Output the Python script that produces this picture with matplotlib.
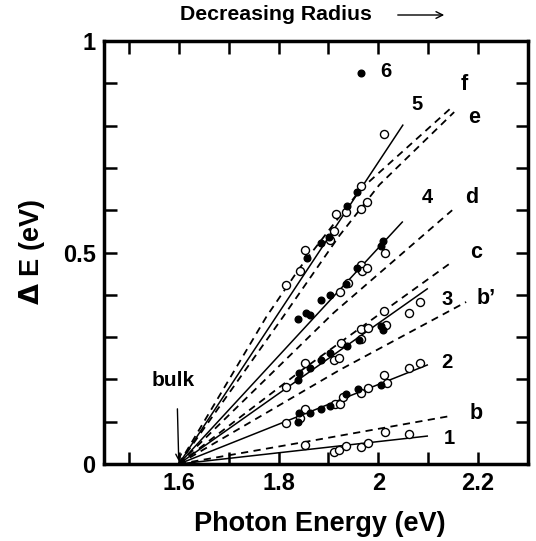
import matplotlib
matplotlib.use('Agg')
import matplotlib.pyplot as plt

plt.rcParams['font.family'] = ['Liberation Sans', 'DejaVu Sans']
plt.rcParams['font.weight'] = 'bold'

# bulk band gap (all lines start here)
bulk_x = 1.6

# solid fits 1-5 : end points
fit_labels = ['1', '2', '3', '4', '5']
fit_end_x = [2.098, 2.098, 2.098, 2.048, 2.049]
fit_end_y = [0.066, 0.234, 0.414, 0.572, 0.801]
fit_lab_x = [2.142, 2.138, 2.138, 2.098, 2.078]
fit_lab_y = [0.061, 0.239, 0.388, 0.631, 0.849]

# dashed theory curves
b_x = [1.6, 1.852, 2.142]
b_y = [0.0, 0.052, 0.113]
bp_x = [1.6, 1.922, 2.176]
bp_y = [0.0, 0.222, 0.383]
c_x = [1.6, 1.85, 2.148]
c_y = [0.0, 0.225, 0.478]
d_x = [1.6, 1.91, 2.148]
d_y = [0.0, 0.357, 0.600]
e_x = [1.6, 1.809, 1.922, 2.002, 2.152]
e_y = [0.0, 0.348, 0.540, 0.660, 0.832]
f_x = [1.6, 1.776, 1.842, 1.965, 2.146]
f_y = [0.0, 0.349, 0.463, 0.650, 0.842]
curve_labels = ['b', 'b\u2019', 'c', 'd', 'e', 'f']
curve_lab_x = [2.196, 2.216, 2.196, 2.188, 2.192, 2.172]
curve_lab_y = [0.120, 0.392, 0.499, 0.629, 0.818, 0.896]

# measured points
open_x = [1.852, 1.912, 1.922, 1.935, 1.965, 1.979, 2.013, 2.062,
          1.815, 1.842, 1.852, 1.913, 1.923, 1.929, 1.965, 1.979, 2.012, 2.017, 2.062, 2.084,
          1.815, 1.852, 1.912, 1.922, 1.925, 1.965, 1.965, 1.979, 2.012, 2.015, 2.062, 2.084,
          1.924, 1.939, 1.965, 1.967, 1.977, 2.014,
          1.815, 1.842, 1.852, 1.904, 1.912, 1.915, 1.935, 1.965, 1.977, 1.965, 2.012]
open_y = [0.045, 0.029, 0.033, 0.043, 0.041, 0.050, 0.075, 0.070,
          0.096, 0.108, 0.130, 0.143, 0.142, 0.159, 0.167, 0.180, 0.210, 0.192, 0.226, 0.238,
          0.181, 0.238, 0.247, 0.251, 0.285, 0.318, 0.296, 0.322, 0.362, 0.329, 0.356, 0.382,
          0.407, 0.429, 0.470, 0.457, 0.464, 0.500,
          0.422, 0.456, 0.507, 0.529, 0.550, 0.590, 0.595, 0.604, 0.619, 0.658, 0.779]
fill_x = [1.839, 1.841, 1.862, 1.885, 1.904, 1.935, 1.959, 2.005,
          1.839, 1.841, 1.862, 1.885, 1.904, 1.938, 1.961, 2.005, 2.009,
          1.839, 1.855, 1.862, 1.885, 1.904, 1.935, 1.957, 2.005, 2.009,
          1.857, 1.886, 1.902, 1.938, 1.957,
          1.965]
fill_y = [0.099, 0.121, 0.120, 0.129, 0.137, 0.165, 0.178, 0.187,
          0.199, 0.214, 0.226, 0.246, 0.262, 0.279, 0.292, 0.327, 0.317,
          0.342, 0.356, 0.352, 0.388, 0.400, 0.426, 0.463, 0.516, 0.528,
          0.486, 0.522, 0.537, 0.611, 0.644,
          0.925]

fig = plt.figure(figsize=(5.36, 5.41), dpi=100)
ax = fig.add_axes([104/536, 77/541, 424/536, 423/541])

for ex, ey in zip(fit_end_x, fit_end_y):
    ax.plot([bulk_x, ex], [0, ey], color='black', lw=1.1)
for cx, cy in [(b_x, b_y), (bp_x, bp_y), (c_x, c_y), (d_x, d_y), (e_x, e_y), (f_x, f_y)]:
    ax.plot(cx, cy, color='black', lw=1.3, ls=(0, (4, 3)))

ax.plot(open_x, open_y, 'o', mfc='white', mec='black', ms=5.8, mew=1.0)
ax.plot(fill_x, fill_y, 'o', color='black', ms=4.8)

for t, x, y in zip(fit_labels, fit_lab_x, fit_lab_y):
    ax.text(x, y, t, fontsize=14.5, fontweight='bold', ha='center', va='center')
for t, x, y in zip(curve_labels, curve_lab_x, curve_lab_y):
    ax.text(x, y, t, fontsize=15.5, fontweight='bold', ha='center', va='center')
ax.text(2.016, 0.927, '6', fontsize=14.5, fontweight='bold', ha='center', va='center')

ax.annotate('', xy=(1.6, 0.0), xytext=(1.597, 0.137),
            arrowprops=dict(arrowstyle='->', color='black', lw=1.0))
ax.text(1.632, 0.197, 'bulk', fontsize=15, fontweight='bold', ha='right', va='center')

ax.set_xlim(1.45, 2.3)
ax.set_ylim(0, 1)
xt = [1.5, 1.6, 1.7, 1.8, 1.9, 2.0, 2.1, 2.2]
ax.set_xticks(xt)
ax.set_xticklabels(['', '1.6', '', '1.8', '', '2', '', '2.2'])
yt = [0, 0.1, 0.2, 0.3, 0.4, 0.5, 0.6, 0.7, 0.8, 0.9, 1.0]
ax.set_yticks(yt)
ax.set_yticklabels(['0', '', '', '', '', '0.5', '', '', '', '', '1'])
ax.tick_params(direction='in', length=9, width=1.8, top=True, right=True,
               labelsize=17, pad=6)
for lab in ax.get_xticklabels() + ax.get_yticklabels():
    lab.set_fontweight('bold')
for sp in ax.spines.values():
    sp.set_linewidth(2.5)

fig.text(320/536, 1 - 524/541, 'Photon Energy (eV)', fontsize=19.5, fontweight='bold',
         ha='center', va='center')
fig.text(32/536, 1 - 252/541, r'$\Delta$ E (eV)', fontsize=19.5, fontweight='bold',
         ha='center', va='center', rotation=90)
fig.text(276/536, 1 - 15/541, 'Decreasing Radius', fontsize=15.3, fontweight='bold',
         ha='center', va='center')
fig.add_artist(matplotlib.patches.FancyArrowPatch((395/536, 1 - 15/541), (447/536, 1 - 15/541),
               transform=fig.transFigure, arrowstyle='->', mutation_scale=12,
               color='black', lw=1.0))

fig.savefig('out.png', dpi=100)
